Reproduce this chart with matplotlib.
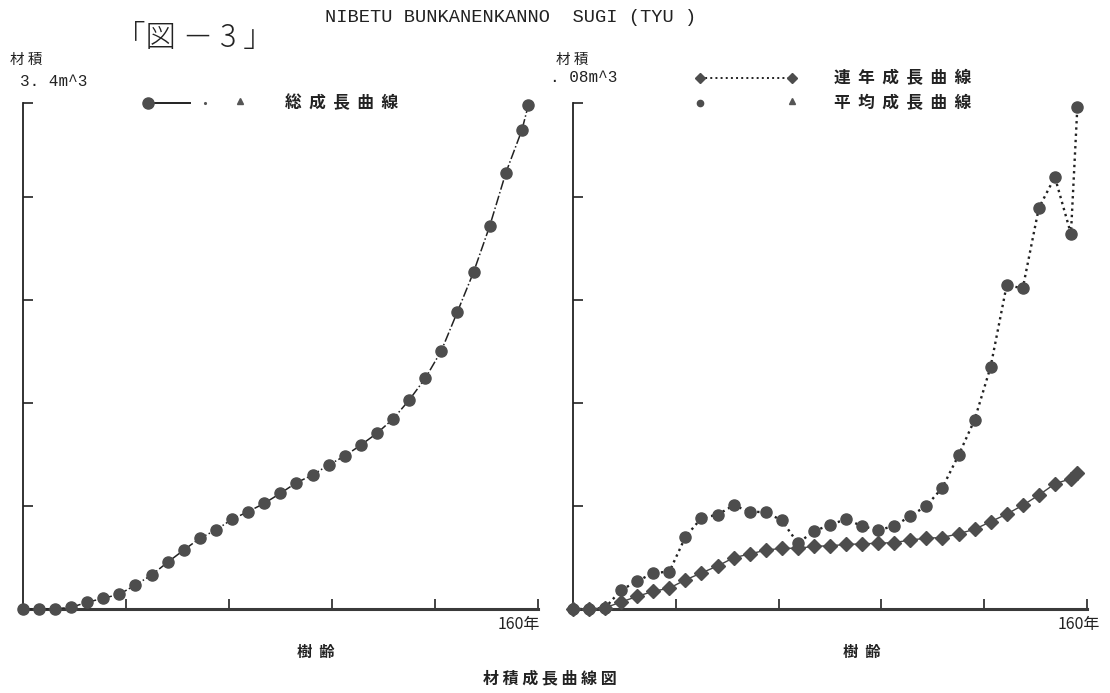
# -*- coding: utf-8 -*-
"""
材積成長曲線図 (図-3) NIBETU BUNKANENKANNO SUGI
左: 総成長曲線 / 右: 連年成長曲線・平均成長曲線
"""

import matplotlib
matplotlib.use('Agg')
import matplotlib.pyplot as plt
from matplotlib.lines import Line2D

plt.rcParams['font.family'] = ['Noto Sans CJK JP', 'DejaVu Sans']

# 樹齢 (年) - 5年毎 + 最終樹齢
ages = [0, 5, 10, 15, 20, 25, 30, 35, 40, 45, 50, 55, 60, 65, 70, 75, 80,
        85, 90, 95, 100, 105, 110, 115, 120, 125, 130, 135, 140, 145, 150, 155, 157]

# 総成長量 (m^3)
total_vol = [0.0, 0.0, 0.001, 0.011, 0.045, 0.072, 0.099, 0.161, 0.228, 0.314,
             0.396, 0.475, 0.531, 0.603, 0.654, 0.710, 0.777, 0.849, 0.900, 0.968,
             1.028, 1.102, 1.181, 1.277, 1.404, 1.550, 1.736, 1.998, 2.264, 2.573,
             2.930, 3.218, 3.386]

# 連年成長量 (m^3)
annual_growth = [0.0, 0.0, 0.0002, 0.0030, 0.0044, 0.0057, 0.0059, 0.0114, 0.0144,
                 0.0149, 0.0164, 0.0154, 0.0153, 0.0140, 0.0104, 0.0123, 0.0133,
                 0.0142, 0.0131, 0.0125, 0.0131, 0.0147, 0.0163, 0.0192, 0.0243,
                 0.0299, 0.0383, 0.0512, 0.0507, 0.0634, 0.0683, 0.0593, 0.0794]

# 平均成長量 (m^3)
mean_growth = [0.0, 0.0, 0.0002, 0.0011, 0.0020, 0.0028, 0.0033, 0.0046, 0.0057,
               0.0068, 0.0081, 0.0087, 0.0093, 0.0096, 0.0096, 0.0099, 0.0100,
               0.0102, 0.0103, 0.0104, 0.0105, 0.0109, 0.0112, 0.0113, 0.0119,
               0.0126, 0.0138, 0.0150, 0.0164, 0.0180, 0.0198, 0.0206, 0.0215]

x_ticks = [32, 64, 96, 128, 160]
left_top = 3.4
right_top = 0.08

W, H = 1110, 693
MARKER_C = '#4d4d4d'
TEXT_C = '#222222'
MONO = ['Liberation Mono', 'DejaVu Sans Mono']


def fx(px):
    return px / W


def fy(py):
    return 1 - py / H


fig = plt.figure(figsize=(W / 100, H / 100), dpi=100)
fig.patch.set_facecolor('white')

ax_l = fig.add_axes([fx(22.7), fy(609), (538 - 22.7) / W, (609 - 103) / H])
ax_r = fig.add_axes([fx(573), fy(609), (1087 - 573) / W, (609 - 103) / H])


def style_axis(ax, top):
    ax.set_xlim(0, 160)
    ax.set_ylim(0, top)
    for s in ['top', 'right']:
        ax.spines[s].set_visible(False)
    ax.spines['left'].set_linewidth(1.3)
    ax.spines['left'].set_color('#222222')
    ax.spines['bottom'].set_linewidth(2.2)
    ax.spines['bottom'].set_color('#3a3a3a')
    step = top * 103 / 506  # 目盛は一定間隔
    ax.set_yticks([step * k for k in range(1, 5)] + [top])
    ax.set_xticks(x_ticks)
    ax.tick_params(direction='in', length=7, width=1.2, color='#222222',
                   labelleft=False, labelbottom=False)
    ax.patch.set_alpha(0)


style_axis(ax_l, left_top)
style_axis(ax_r, right_top)

# 左: 総成長曲線
ax_l.plot(ages, total_vol, linestyle='-.', color=TEXT_C, linewidth=1.1,
          marker='o', markersize=8, markerfacecolor=MARKER_C,
          markeredgecolor=MARKER_C, clip_on=False, zorder=3)

# 右: 連年成長曲線 / 平均成長曲線
ax_r.plot(ages, annual_growth, linestyle=':', color=TEXT_C, linewidth=1.7,
          marker='o', markersize=8, markerfacecolor=MARKER_C,
          markeredgecolor=MARKER_C, clip_on=False, zorder=3)
ax_r.plot(ages, mean_growth, linestyle='-', color='#444444', linewidth=1.0,
          marker='D', markersize=7, markerfacecolor=MARKER_C,
          markeredgecolor=MARKER_C, clip_on=False, zorder=3)

# ---- 凡例 ----
fig.add_artist(Line2D([fx(148), fx(190)], [fy(103), fy(103)], color=TEXT_C,
                      linewidth=1.4))
fig.add_artist(Line2D([fx(148)], [fy(103)], marker='o', markersize=8,
                      color=MARKER_C, linestyle='none'))
fig.add_artist(Line2D([fx(205)], [fy(103)], marker='.', markersize=2.5,
                      color='#555555', linestyle='none'))
fig.add_artist(Line2D([fx(240)], [fy(101)], marker='^', markersize=4,
                      color='#555555', linestyle='none'))
fig.text(fx(285), fy(103), '総  成  長  曲  線', fontsize=12, fontweight='bold',
         va='center', ha='left', color=TEXT_C)

fig.add_artist(Line2D([fx(700), fx(792)], [fy(78), fy(78)], color=TEXT_C,
                      linewidth=1.4, linestyle=':'))
fig.add_artist(Line2D([fx(700), fx(792)], [fy(78), fy(78)], marker='D',
                      markersize=5.5, color=MARKER_C, linestyle='none'))
fig.text(fx(834), fy(78), '連  年  成  長  曲  線', fontsize=12, fontweight='bold',
         va='center', ha='left', color=TEXT_C)
fig.add_artist(Line2D([fx(700)], [fy(103)], marker='o', markersize=4.5,
                      color=MARKER_C, linestyle='none'))
fig.add_artist(Line2D([fx(792)], [fy(101)], marker='^', markersize=4,
                      color='#555555', linestyle='none'))
fig.text(fx(834), fy(103), '平  均  成  長  曲  線', fontsize=12, fontweight='bold',
         va='center', ha='left', color=TEXT_C)

# ---- 文字 ----
fig.text(fx(115), fy(38), '「図 － 3 」', fontsize=22, ha='left', va='center',
         fontweight='light', color=TEXT_C)
fig.text(fx(325), fy(18), 'NIBETU BUNKANENKANNO  SUGI (TYU )', fontsize=13.5,
         family=MONO, ha='left', va='center', color=TEXT_C)
fig.text(fx(10), fy(60), '材 積', fontsize=10.5, ha='left', va='center', color=TEXT_C)
fig.text(fx(20), fy(82), '3. 4m^3', fontsize=11.5, ha='left', va='center',
         family=MONO, color=TEXT_C)
fig.text(fx(556), fy(60), '材 積', fontsize=10.5, ha='left', va='center', color=TEXT_C)
fig.text(fx(550), fy(78), '. 08m^3', fontsize=11.5, ha='left', va='center',
         family=MONO, color=TEXT_C)

fig.text(fx(540), fy(624), '160年', fontsize=11.5, ha='right', va='center', color=TEXT_C)
fig.text(fx(1100), fy(624), '160年', fontsize=11.5, ha='right', va='center', color=TEXT_C)
fig.text(fx(316), fy(652), '樹  齢', fontsize=11, fontweight='bold', ha='center',
         va='center', color=TEXT_C)
fig.text(fx(862), fy(652), '樹  齢', fontsize=11, fontweight='bold', ha='center',
         va='center', color=TEXT_C)
fig.text(fx(550), fy(678), '材 積 成 長 曲 線 図', fontsize=11.5, fontweight='bold',
         ha='center', va='center', color=TEXT_C)

fig.savefig('out.png', dpi=100, facecolor='white')
